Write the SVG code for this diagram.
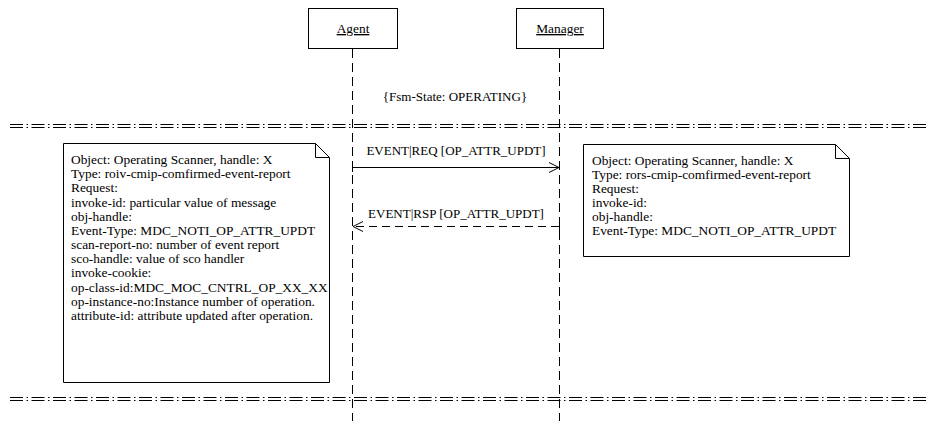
<svg xmlns="http://www.w3.org/2000/svg" width="926" height="421" viewBox="0 0 926 421">
<defs>
<style>
text{font-family:"Liberation Serif","Times New Roman",serif;font-size:13px;fill:#000}
.n{font-size:13.4px}
.box{fill:#fff;stroke:#000;stroke-width:1}
.life{stroke:#000;stroke-width:1;stroke-dasharray:9,5;fill:none}
.div{stroke:#000;stroke-width:1;stroke-dasharray:13,3.5,1.5,3.5;fill:none}
.msg{stroke:#000;stroke-width:1;fill:none}
.dash{stroke-dasharray:8,5}
.c{text-anchor:middle}
</style>
<marker id="open" viewBox="0 0 12 12" refX="11" refY="6" markerWidth="12" markerHeight="12" markerUnits="userSpaceOnUse" orient="auto">
<path d="M1,1 L11,6 L1,11" fill="none" stroke="#000" stroke-width="1"/>
</marker>
</defs>
<rect width="926" height="421" fill="#fff"/>
<g id="lifelines">
<line class="life" x1="352.5" y1="49" x2="352.5" y2="421"/>
<line class="life" x1="559.5" y1="49" x2="559.5" y2="421"/>
</g>
<g id="agent">
<rect class="box" x="308.5" y="8.5" width="89" height="40"/>
<text class="c n" x="353" y="33" text-decoration="underline">Agent</text>
</g>
<g id="manager">
<rect class="box" x="516.5" y="8.5" width="87" height="40"/>
<text class="c n" x="560" y="33" text-decoration="underline">Manager</text>
</g>
<g id="state">
<text class="c" x="455" y="101">{Fsm-State: OPERATING}</text>
</g>
<g id="dividers">
<line class="div" x1="10" y1="124.5" x2="926" y2="124.5"/>
<line class="div" x1="10" y1="127.5" x2="926" y2="127.5"/>
<line class="div" x1="10" y1="397.5" x2="926" y2="397.5"/>
<line class="div" x1="10" y1="400.5" x2="926" y2="400.5"/>
</g>
<g id="connectors">
<line class="msg" x1="352.5" y1="167.5" x2="559" y2="167.5" marker-end="url(#open)"/>
<line class="msg" x1="352.5" y1="163" x2="352.5" y2="172"/>
<text class="c" x="456" y="155">EVENT|REQ [OP_ATTR_UPDT]</text>
<line class="msg dash" x1="559" y1="226.5" x2="353" y2="226.5" marker-end="url(#open)"/>
<line class="msg" x1="559.5" y1="222" x2="559.5" y2="231"/>
<text class="c" x="456" y="218">EVENT|RSP [OP_ATTR_UPDT]</text>
</g>
<g id="note-agent">
<path class="box" d="M63.5,143.5 H315.5 L329.5,157.5 V382.5 H63.5 Z"/>
<path d="M315.5,143.5 V157.5 H329.5" fill="none" stroke="#000"/>
<text class="n" x="71" y="164">Object: Operating Scanner, handle: X</text>
<text class="n" x="71" y="178">Type: roiv-cmip-comfirmed-event-report</text>
<text class="n" x="71" y="192">Request:</text>
<text class="n" x="71" y="207">invoke-id: particular value of message</text>
<text class="n" x="71" y="221">obj-handle:</text>
<text class="n" x="71" y="235">Event-Type: MDC_NOTI_OP_ATTR_UPDT</text>
<text class="n" x="71" y="249">scan-report-no: number of event report</text>
<text class="n" x="71" y="263">sco-handle: value of sco handler</text>
<text class="n" x="71" y="277">invoke-cookie:</text>
<text class="n" x="71" y="292">op-class-id:MDC_MOC_CNTRL_OP_XX_XX</text>
<text class="n" x="71" y="306">op-instance-no:Instance number of operation.</text>
<text class="n" x="71" y="320">attribute-id: attribute updated after operation.</text>
</g>
<g id="note-manager">
<path class="box" d="M583.5,144.5 H835.5 L849.5,158.5 V256.5 H583.5 Z"/>
<path d="M835.5,144.5 V158.5 H849.5" fill="none" stroke="#000"/>
<text class="n" x="592" y="165">Object: Operating Scanner, handle: X</text>
<text class="n" x="592" y="179">Type: rors-cmip-comfirmed-event-report</text>
<text class="n" x="592" y="193">Request:</text>
<text class="n" x="592" y="207">invoke-id:</text>
<text class="n" x="592" y="221">obj-handle:</text>
<text class="n" x="592" y="235">Event-Type: MDC_NOTI_OP_ATTR_UPDT</text>
</g>
</svg>
